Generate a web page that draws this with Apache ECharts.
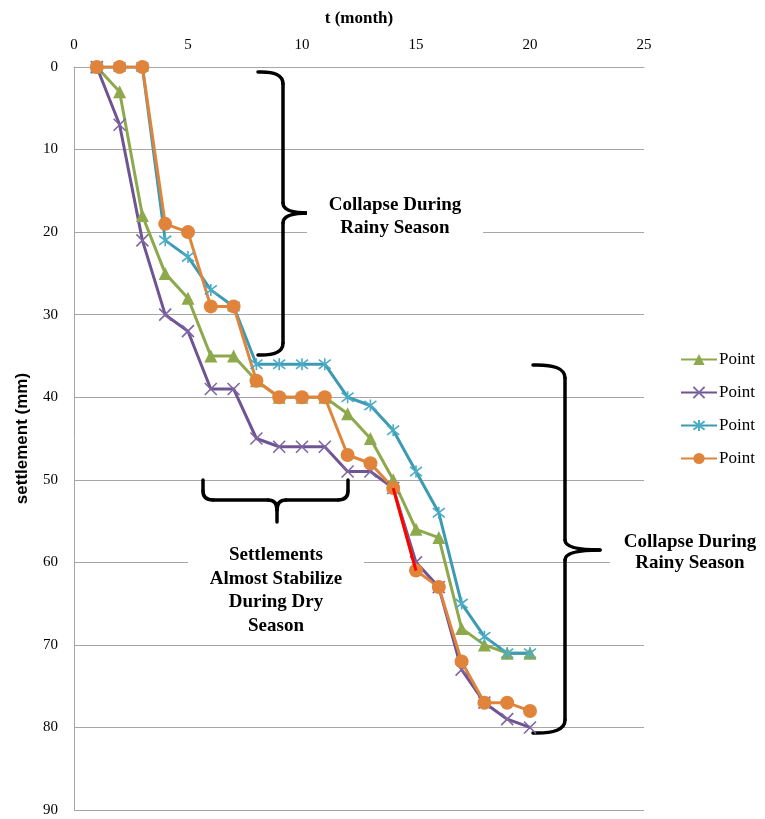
<!DOCTYPE html>
<html>
<head>
<meta charset="utf-8">
<script src="https://cdn.jsdelivr.net/npm/echarts@6/dist/echarts.min.js"></script>
<style>
html,body{margin:0;padding:0;background:#fff;}
#chart{width:765px;height:819px;}
</style>
</head>
<body>
<div id="chart"></div>
<script>
// ---- data ----
var months = [1,2,3,4,5,6,7,8,9,10,11,12,13,14,15,16,17,18,19,20];
var greenValues  = [0,3,18,25,28,35,35,38,40,40,40,42,45,50,56,57,68,70,71,71];
var purpleValues = [0,7,21,30,32,39,39,45,46,46,46,49,49,51,60,63,73,77,79,80];
var tealValues   = [0,0,0,21,23,27,29,36,36,36,36,40,41,44,49,54,65,69,71,71];
var orangeValues = [0,0,0,19,20,29,29,38,40,40,40,47,48,51,61,63,72,77,77,78];
var redMonths = [14,15];
var redValues = [51,61];
var legendLabels = ['Point','Point','Point','Point'];
var xTicks = {min:0,max:25,interval:5};
var yTicks = {min:0,max:90,interval:10};
var xTitle = 't (month)';
var yTitle = 'settlement (mm)';
var note1 = 'Collapse During\nRainy Season';
var note2 = 'Settlements\nAlmost Stabilize\nDuring Dry\nSeason';
var note3 = 'Collapse During\nRainy Season';

function pairs(xs, ys){ return xs.map(function(x,i){ return [x, ys[i]]; }); }

var serif = '"Liberation Serif","Times New Roman",serif';
var cGreen='#8DA94C', cPurple='#6E5492', cTeal='#3D9AB3', cOrange='#E0843C';
var crossPath = 'path://M0,0 L10,10 M10,0 L0,10';
var starPath = 'path://M0,0 L10,10 M10,0 L0,10 M5,-1.5 L5,11.5';

var chart = echarts.init(document.getElementById('chart'));
var ids = ['s1','s2','s3','s4'];

var braceStyle = {stroke:'#000', lineWidth:3.5, fill:null, lineCap:'round'};
// segments: ['L',x1,y1,x2,y2] or ['Q',x1,y1,cx,cy,x2,y2]
function brace(segs){
  return segs.map(function(s){
    if (s[0] === 'L') return {type:'line', z:1, shape:{x1:s[1],y1:s[2],x2:s[3],y2:s[4]}, style:braceStyle};
    return {type:'bezierCurve', z:1, shape:{x1:s[1],y1:s[2],cpx1:s[3],cpy1:s[4],x2:s[5],y2:s[6]}, style:braceStyle};
  });
}
function braceText(txt, cx, cy, w, h, lh){
  return [
    {type:'rect', z:1, shape:{x:cx-w/2, y:cy-h/2, width:w, height:h}, style:{fill:'#fff'}},
    {type:'text', z:1, x:cx, y:cy, style:{text:txt, fill:'#000', font:'bold 19px '+serif, align:'center', verticalAlign:'middle', lineHeight:lh}}
  ];
}

var graphics = [].concat(
  brace([['Q',258,72,283,71,283,84],['L',283,84,283,203],['Q',283,203,283,213,308,213],['Q',308,213,283,213,283,223],['L',283,223,283,343],['Q',283,343,283,356,258,355]]),
  brace([['Q',533,365,565,364,565,378],['L',565,378,565,540],['Q',565,540,565,550,600,550],['Q',600,550,565,550,565,560],['L',565,560,565,720],['Q',565,720,565,734,533,733]]),
  brace([['L',203,480,203,491],['Q',203,491,203,500,213,500],['L',213,500,268,500],['Q',268,500,277,500,277,510],['L',277,510,277,522],['Q',277,510,277,500,286,500],['L',286,500,338,500],['Q',338,500,348,500,348,491],['L',348,491,348,480]]),
  braceText(note1, 395, 216.5, 176, 52, 23),
  braceText(note2, 276, 590.5, 176, 106, 23.7),
  braceText(note3, 690, 552.5, 160, 50, 21.5)
);

function lineSeries(id, values, color, symbol, size, itemStyle){
  return {
    id:id, name:id, type:'line', data:pairs(months, values),
    symbol:symbol, symbolSize:size, showAllSymbol:true,
    lineStyle:{color:color, width:3},
    itemStyle:itemStyle,
    emphasis:{disabled:true}, animation:false, z:3
  };
}

chart.setOption({
  animation:false,
  backgroundColor:'#fff',
  grid:{left:74, top:67, width:570, height:743, outerBoundsMode:'none', containLabel:false},
  xAxis:{
    type:'value', position:'top', min:xTicks.min, max:xTicks.max, interval:xTicks.interval,
    name:xTitle, nameLocation:'middle', nameGap:40,
    nameTextStyle:{fontFamily:serif, fontWeight:'bold', fontSize:17, color:'#000'},
    axisLine:{show:true, lineStyle:{color:'#a6a6a6', width:1}},
    axisTick:{show:false},
    axisLabel:{fontFamily:serif, fontSize:15, color:'#000', margin:14},
    splitLine:{show:false}
  },
  yAxis:{
    type:'value', inverse:true, min:yTicks.min, max:yTicks.max, interval:yTicks.interval,
    name:yTitle, nameLocation:'middle', nameGap:43, nameRotate:90,
    nameTextStyle:{fontFamily:'"Liberation Sans Narrow","Liberation Sans",sans-serif', fontWeight:'bold', fontSize:17, color:'#000'},
    axisLine:{show:true, lineStyle:{color:'#a6a6a6', width:1}},
    axisTick:{show:false},
    axisLabel:{fontFamily:serif, fontSize:15, color:'#000', margin:16},
    splitLine:{show:true, lineStyle:{color:'#a6a6a6', width:1}}
  },
  legend:{
    orient:'vertical', left:675, top:346,
    data:ids, itemWidth:36, itemHeight:14, itemGap:16,
    formatter:function(n){ return legendLabels[ids.indexOf(n)]; },
    textStyle:{fontFamily:serif, fontSize:17, color:'#000', lineHeight:16, padding:[0,0,0,-3]},
    selectedMode:false
  },
  graphic:graphics,
  series:[
    lineSeries('s1', greenValues, cGreen, 'triangle', 13, {color:cGreen}),
    lineSeries('s2', purpleValues, cPurple, crossPath, 12, {color:'rgba(0,0,0,0)', borderColor:'#7E67A3', borderWidth:1.6}),
    lineSeries('s3', tealValues, cTeal, starPath, 12, {color:'rgba(0,0,0,0)', borderColor:'#4BACC6', borderWidth:1.6}),
    lineSeries('s4', orangeValues, cOrange, 'circle', 14, {color:cOrange}),
    {type:'line', name:'red', data:pairs(redMonths, redValues), symbol:'none', lineStyle:{color:'#FF0000', width:3}, z:4, emphasis:{disabled:true}, animation:false}
  ]
});
</script>
</body>
</html>
